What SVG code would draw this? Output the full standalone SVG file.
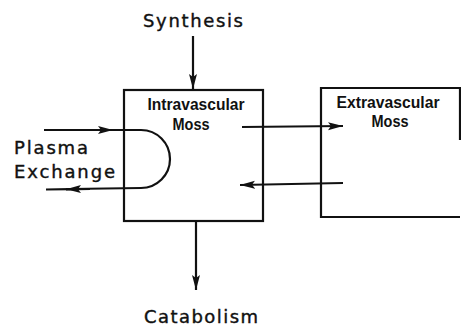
<svg xmlns="http://www.w3.org/2000/svg" width="461" height="327" viewBox="0 0 461 327">
<defs>
<style>
.ln{fill:none;stroke:#111;stroke-width:2.2;}
.lbl{font-family:"DejaVu Sans","Liberation Sans",sans-serif;font-size:18px;fill:#111;stroke:#111;stroke-width:0.4;}
.box{font-family:"Liberation Sans","DejaVu Sans",sans-serif;font-size:16px;font-weight:bold;fill:#111;text-anchor:middle;}
</style>
<marker id="ah" markerUnits="userSpaceOnUse" markerWidth="16" markerHeight="10" refX="15" refY="5" orient="auto">
<path d="M0,1 L15,5 L0,9 L3,5 Z" fill="#111"/>
</marker>
</defs>
<rect width="461" height="327" fill="#fff"/>
<g id="intravascular">
<rect class="ln" x="124" y="90" width="139" height="131"/>
<text class="box" x="196" y="110" textLength="97" lengthAdjust="spacingAndGlyphs">Intravascular</text>
<text class="box" x="191" y="130" textLength="37" lengthAdjust="spacingAndGlyphs">Moss</text>
</g>
<g id="extravascular">
<path class="ln" d="M460,140 L460,88 L321,88 L321,217 L460,217"/>
<text class="box" x="388" y="108" textLength="103" lengthAdjust="spacingAndGlyphs">Extravascular</text>
<text class="box" x="390" y="127" textLength="37" lengthAdjust="spacingAndGlyphs">Moss</text>
</g>
<g id="synthesis">
<text class="lbl" x="143" y="27" textLength="100" lengthAdjust="spacing">Synthesis</text>
</g>
<g id="catabolism">
<text class="lbl" x="144" y="323" textLength="114" lengthAdjust="spacing">Catabolism</text>
</g>
<g id="plasma-exchange">
<text class="lbl" x="14" y="154" textLength="74" lengthAdjust="spacing">Plasma</text>
<text class="lbl" x="14" y="178" textLength="101" lengthAdjust="spacing">Exchange</text>
</g>
<g id="connectors">
<line class="ln" x1="193" y1="36" x2="193" y2="89" marker-end="url(#ah)"/>
<line class="ln" x1="196" y1="221" x2="196" y2="290" marker-end="url(#ah)"/>
<line class="ln" x1="242" y1="127" x2="343" y2="126" marker-end="url(#ah)"/>
<line class="ln" x1="343" y1="183" x2="240" y2="185" marker-end="url(#ah)"/>
<line class="ln" x1="44" y1="130" x2="113" y2="130" marker-end="url(#ah)"/>
<path class="ln" d="M112,130 L141,130 A29,29 0 0 1 141,188 L70,189"/>
<line class="ln" x1="90" y1="189" x2="66" y2="189.3" marker-end="url(#ah)"/>
<line class="ln" x1="70" y1="189.2" x2="46" y2="189.5"/>
</g>
</svg>
